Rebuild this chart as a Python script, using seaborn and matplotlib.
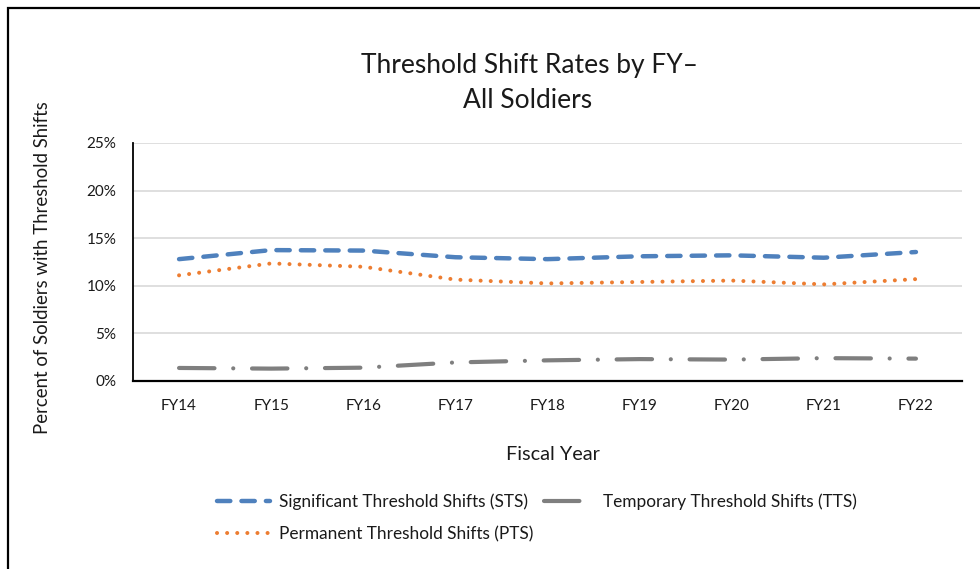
"""
Threshold Shift Rates by FY - All Soldiers (Excel-like line chart).
"""

import matplotlib.pyplot as plt
import pandas as pd
import seaborn as sns
from matplotlib.patches import Rectangle
from matplotlib.ticker import PercentFormatter

# -- Donnees -----------------------------------------------------------------
fiscal_years = ["FY14", "FY15", "FY16", "FY17", "FY18", "FY19", "FY20", "FY21", "FY22"]
sts_pct = [12.8, 13.75, 13.7, 13.0, 12.8, 13.1, 13.2, 12.95, 13.55]
pts_pct = [11.1, 12.35, 12.0, 10.65, 10.25, 10.4, 10.55, 10.15, 10.7]
tts_pct = [1.37, 1.3, 1.4, 1.95, 2.17, 2.3, 2.25, 2.4, 2.35]
y_ticks = [0, 5, 10, 15, 20, 25]

sts_label = "Significant Threshold Shifts (STS)"
pts_label = "Permanent Threshold Shifts (PTS)"
tts_label = "Temporary Threshold Shifts (TTS)"

df = pd.DataFrame({"fy": fiscal_years, "sts": sts_pct, "pts": pts_pct, "tts": tts_pct})

sns.set_style("white")
plt.rcParams["font.family"] = ["Lato", "DejaVu Sans"]
text_color = "#1a1a1a"
W, H = 980, 569

fig = plt.figure(figsize=(W / 100, H / 100), dpi=100)
ax = fig.add_axes([133 / W, 1 - 381 / H, (962 - 133) / W, (381 - 143) / H])

# -- Courbes ------------------------------------------------------------------
sns.lineplot(data=df, x="fy", y="sts", ax=ax, color="#4F81BD", linewidth=3.2,
             label=sts_label, sort=False)
sns.lineplot(data=df, x="fy", y="pts", ax=ax, color="#ED7D31", linewidth=2.9,
             label=pts_label, sort=False)
sns.lineplot(data=df, x="fy", y="tts", ax=ax, color="#7F7F7F", linewidth=3.0,
             label=tts_label, sort=False)

styles = [(0, (3.0, 2.5)), (0, (0.01, 2.5)), (0, (8.5, 4.5, 0.01, 4.5))]
for line, ls in zip(ax.lines, styles):
    line.set_linestyle(ls)
    line.set_dash_capstyle("round")

# -- Axes ---------------------------------------------------------------------
ax.set_xlim(-0.5, len(fiscal_years) - 0.5)
ax.set_ylim(0, 25)
ax.set_yticks(y_ticks)
ax.yaxis.set_major_formatter(PercentFormatter(100, decimals=0))
ax.grid(axis="y", color="#D9D9D9", linewidth=1.2)
ax.set_axisbelow(True)
for side in ["top", "right"]:
    ax.spines[side].set_visible(False)
ax.spines["left"].set_color("black")
ax.spines["left"].set_linewidth(1.3)
ax.spines["bottom"].set_color("black")
ax.spines["bottom"].set_linewidth(1.6)
ax.tick_params(axis="both", length=0, labelsize=11, colors=text_color)
ax.tick_params(axis="x", pad=13)
ax.tick_params(axis="y", pad=12)
ax.set_xlabel("")
ax.set_ylabel("")

# -- Textes -------------------------------------------------------------------
fig.text(553 / W, 1 - 460 / H, "Fiscal Year", ha="center", va="baseline",
         fontsize=14.3, color=text_color)
fig.text(43 / W, 1 - 268 / H, "Percent of Soldiers with Threshold Shifts",
         rotation=90, ha="center", va="center", fontsize=13.4, color=text_color)
fig.text(529 / W, 1 - 73 / H, "Threshold Shift Rates by FY\u2013",
         ha="center", va="baseline", fontsize=19, color=text_color)
fig.text(528 / W, 1 - 108 / H, "All Soldiers",
         ha="center", va="baseline", fontsize=19, color=text_color)

# -- Legende ------------------------------------------------------------------
# deux legendes : la colonne TTS a un symbole plus court et un ecart plus grand
sts_line, pts_line, tts_line = ax.lines[:3]
leg_left = ax.legend([sts_line, pts_line], [sts_label, pts_label], frameon=False,
                     fontsize=12.4, handlelength=3.1, handletextpad=0.52,
                     labelspacing=0.93, borderpad=0, loc="upper left",
                     bbox_to_anchor=(208 / W, 1 - 485 / H),
                     bbox_transform=fig.transFigure, labelcolor=text_color)
ax.add_artist(leg_left)
ax.legend([tts_line], [tts_label], frameon=False, fontsize=12.4,
          handlelength=2.3, handletextpad=1.16, borderpad=0, loc="upper left",
          bbox_to_anchor=(535 / W, 1 - 485 / H),
          bbox_transform=fig.transFigure, labelcolor=text_color)

# cadre du graphique
fig.patches.append(Rectangle((8 / W, -0.1), 1.1, 1 - 8 / H + 0.1,
                             transform=fig.transFigure, fill=False,
                             edgecolor="black", linewidth=1.6))

plt.savefig("out.png", dpi=100)
plt.close()
